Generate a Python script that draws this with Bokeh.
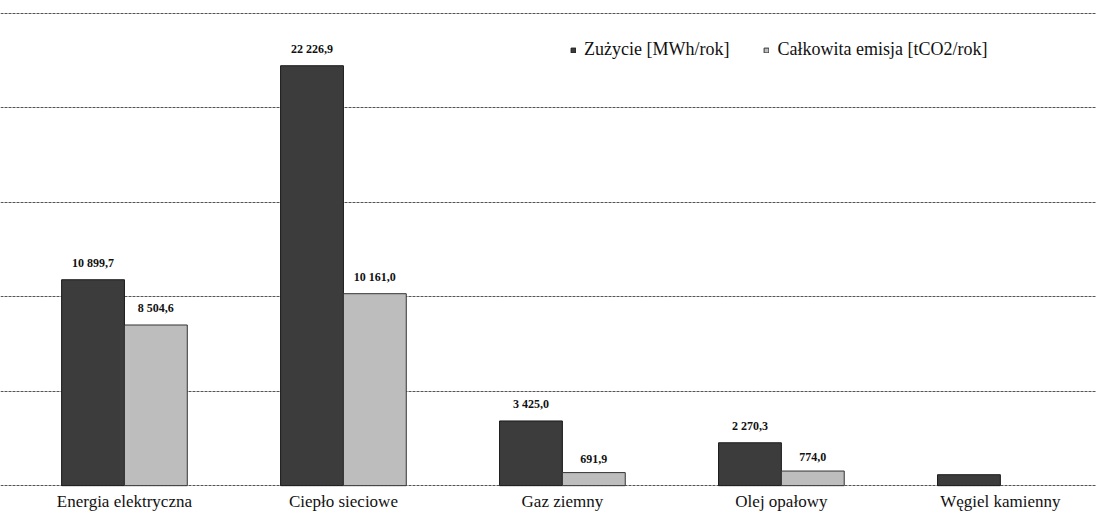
from bokeh.plotting import figure
from bokeh.models import ColumnDataSource, Range1d, FixedTicker, Legend, LegendItem
from bokeh.transform import dodge
from bokeh.core.properties import value
from bokeh.embed import file_html
from bokeh.resources import INLINE

categories = ["Energia elektryczna", "Ciepło sieciowe", "Gaz ziemny", "Olej opałowy", "Węgiel kamienny"]
consumption = [10899.7, 22226.9, 3425.0, 2270.3, 580.0]
emission = [8504.6, 10161.0, 691.9, 774.0, None]
labelled = [True, True, True, True, False]
series_names = ["Zużycie [MWh/rok]", "Całkowita emisja [tCO2/rok]"]
y_ticks = [0, 5000, 10000, 15000, 20000, 25000]


def fmt(v):
    return f"{v:,.1f}".replace(",", " ").replace(".", ",")


src = ColumnDataSource(dict(
    x=list(range(len(categories))),
    cons=consumption,
    emis=[float("nan") if v is None else v for v in emission],
    cons_lbl=[fmt(v) if s and v is not None else "" for v, s in zip(consumption, labelled)],
    emis_lbl=[fmt(v) if s and v is not None else "" for v, s in zip(emission, labelled)],
))

SERIF = "Liberation Serif"
BW = 0.287

p = figure(frame_width=1096, frame_height=478, output_backend="svg", toolbar_location=None,
           x_range=Range1d(-0.566, 4.439), y_range=Range1d(-150, 25150),
           min_border_left=0, min_border_right=0, min_border_top=10, min_border_bottom=0,
           outline_line_color=None, background_fill_color="white", border_fill_color="white")

r1 = p.vbar(x=dodge("x", -BW / 2, range=p.x_range), top="cons", width=BW, source=src,
            fill_color="#3c3c3c", line_color="#1a1a1a", line_width=1)
r2 = p.vbar(x=dodge("x", BW / 2, range=p.x_range), top="emis", width=BW, source=src,
            fill_color="#bdbdbd", line_color="#333333", line_width=1)

p.text(x=dodge("x", -BW / 2, range=p.x_range), y="cons", text="cons_lbl", source=src,
       text_align="center", text_baseline="bottom", y_offset=-10,
       text_font=value(SERIF), text_font_size="12px", text_font_style="bold", text_color="#111111")
p.text(x=dodge("x", BW / 2, range=p.x_range), y="emis", text="emis_lbl", source=src,
       text_align="center", text_baseline="bottom", y_offset=-10,
       text_font=value(SERIF), text_font_size="12px", text_font_style="bold", text_color="#111111")

p.yaxis.visible = False
p.xaxis.ticker = FixedTicker(ticks=list(range(len(categories))))
p.xaxis.major_label_overrides = {i: c for i, c in enumerate(categories)}
p.xaxis.axis_line_color = None
p.xaxis.major_tick_line_color = None
p.xaxis.minor_tick_line_color = None
p.xaxis.major_tick_out = 0
p.xaxis.major_tick_in = 0
p.xaxis.major_label_standoff = 3
p.xaxis.major_label_text_font = SERIF
p.xaxis.major_label_text_font_size = "17px"
p.xaxis.major_label_text_color = "#111111"

p.xgrid.visible = False
p.ygrid.ticker = FixedTicker(ticks=y_ticks)
p.ygrid.grid_line_color = "#555555"
p.ygrid.grid_line_dash = "3 1"
p.ygrid.grid_line_width = 1

legend = Legend(items=[LegendItem(label=series_names[0], renderers=[r1]),
                       LegendItem(label=series_names[1], renderers=[r2])],
                location=(570, 428), orientation="horizontal",
                background_fill_alpha=0, border_line_color=None,
                label_text_font=SERIF, label_text_font_size="18px", label_text_color="#111111",
                glyph_width=6, glyph_height=6, spacing=34, padding=2, label_standoff=8)
p.add_layout(legend)

open("out.html", "w").write(file_html(p, INLINE))
